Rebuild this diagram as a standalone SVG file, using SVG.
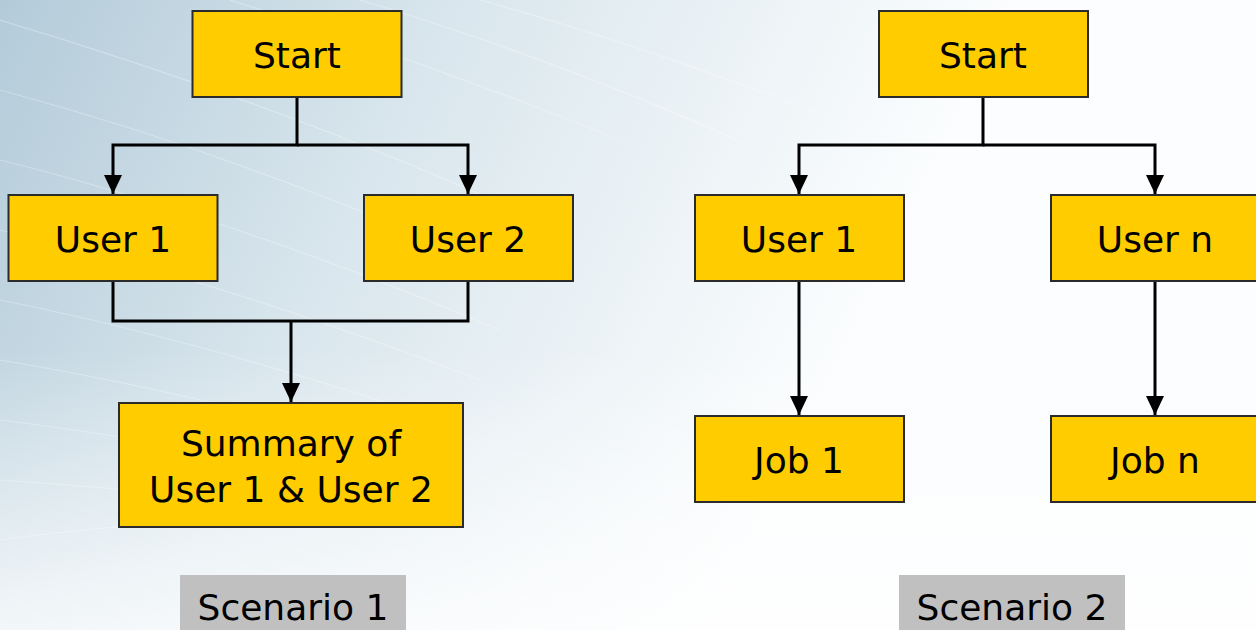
<svg xmlns="http://www.w3.org/2000/svg" width="1256" height="630" viewBox="0 0 1256 630">
  <defs>
    <linearGradient id="bg" x1="0" y1="0" x2="820" y2="400" gradientUnits="userSpaceOnUse">
      <stop offset="0" stop-color="#b3cbd9"/>
      <stop offset="0.45" stop-color="#d9e6ed"/>
      <stop offset="1" stop-color="#fbfdfe"/>
    </linearGradient>
    <linearGradient id="fadeLow" x1="0" y1="0" x2="0" y2="630" gradientUnits="userSpaceOnUse">
      <stop offset="0.55" stop-color="#ffffff" stop-opacity="0"/>
      <stop offset="1" stop-color="#ffffff" stop-opacity="0.75"/>
    </linearGradient>
    <marker id="arrow" viewBox="0 0 19 18" refX="19" refY="9" markerWidth="19" markerHeight="18" markerUnits="userSpaceOnUse" orient="auto">
      <path d="M0,0 L19,9 L0,18 Z" fill="#000"/>
    </marker>
    <style>
      .box { fill: #ffcc00; stroke: #2b2b2b; stroke-width: 2; }
      .tag { fill: #c0c0c0; }
      .lbl { font-family: "DejaVu Sans", Verdana, sans-serif; font-size: 36px; fill: #000; text-anchor: middle; }
      .wire { fill: none; stroke: #000; stroke-width: 3; }
      .streak { fill: none; stroke: #ffffff; stroke-width: 1.2; stroke-opacity: 0.3; }
    </style>
  </defs>

  <!-- background wash with faint streaks -->
  <rect x="0" y="0" width="1256" height="630" fill="url(#bg)"/>
  <g id="streaks">
    <path class="streak" d="M230,0 Q420,60 620,140"/>
    <path class="streak" d="M0,20 Q300,110 560,230"/>
    <path class="streak" d="M0,90 Q260,160 520,280"/>
    <path class="streak" d="M0,160 Q240,220 500,330"/>
    <path class="streak" d="M0,230 Q220,280 480,380"/>
    <path class="streak" d="M0,300 Q200,340 440,420"/>
    <path class="streak" d="M0,360 Q180,390 400,450"/>
    <path class="streak" d="M0,420 Q160,440 360,480"/>
    <path class="streak" d="M0,480 Q150,490 320,510"/>
    <path class="streak" d="M0,540 Q140,520 300,520"/>
    <path class="streak" d="M360,0 Q560,60 760,150"/>
    <path class="streak" d="M480,0 Q660,50 860,130"/>
  </g>
  <rect x="0" y="0" width="1256" height="630" fill="url(#fadeLow)"/>

  <!-- connectors -->
  <g id="connectors">
    <path class="wire" d="M297,97 V145 H113 V194" marker-end="url(#arrow)"/>
    <path class="wire" d="M297,145 H468 V194" marker-end="url(#arrow)"/>
    <path class="wire" d="M113,281 V321 H468 V281"/>
    <path class="wire" d="M291,321 V402" marker-end="url(#arrow)"/>
    <path class="wire" d="M983,97 V145 H799 V194" marker-end="url(#arrow)"/>
    <path class="wire" d="M983,145 H1155 V194" marker-end="url(#arrow)"/>
    <path class="wire" d="M799,281 V415" marker-end="url(#arrow)"/>
    <path class="wire" d="M1155,281 V415" marker-end="url(#arrow)"/>
  </g>

  <!-- scenario 1 -->
  <g id="s1-start">
    <rect class="box" x="192.5" y="11" width="209" height="86"/>
    <text class="lbl" x="297" y="68">Start</text>
  </g>
  <g id="s1-user1">
    <rect class="box" x="8.5" y="195" width="209" height="86"/>
    <text class="lbl" x="113" y="252">User 1</text>
  </g>
  <g id="s1-user2">
    <rect class="box" x="364" y="195" width="209" height="86"/>
    <text class="lbl" x="468" y="252">User 2</text>
  </g>
  <g id="s1-summary">
    <rect class="box" x="119" y="403" width="344" height="124"/>
    <text class="lbl" x="291" y="456">Summary of</text>
    <text class="lbl" x="291" y="502">User 1 &amp; User 2</text>
  </g>
  <g id="s1-caption">
    <rect class="tag" x="180" y="575" width="226" height="55"/>
    <text class="lbl" x="293" y="620">Scenario 1</text>
  </g>

  <!-- scenario 2 -->
  <g id="s2-start">
    <rect class="box" x="879" y="11" width="209" height="86"/>
    <text class="lbl" x="983" y="68">Start</text>
  </g>
  <g id="s2-user1">
    <rect class="box" x="695" y="195" width="209" height="86"/>
    <text class="lbl" x="799" y="252">User 1</text>
  </g>
  <g id="s2-usern">
    <rect class="box" x="1051" y="195" width="209" height="86"/>
    <text class="lbl" x="1155" y="252">User n</text>
  </g>
  <g id="s2-job1">
    <rect class="box" x="695" y="416" width="209" height="86"/>
    <text class="lbl" x="799" y="473">Job 1</text>
  </g>
  <g id="s2-jobn">
    <rect class="box" x="1051" y="416" width="209" height="86"/>
    <text class="lbl" x="1155" y="473">Job n</text>
  </g>
  <g id="s2-caption">
    <rect class="tag" x="899" y="575" width="226" height="55"/>
    <text class="lbl" x="1012" y="620">Scenario 2</text>
  </g>
</svg>
